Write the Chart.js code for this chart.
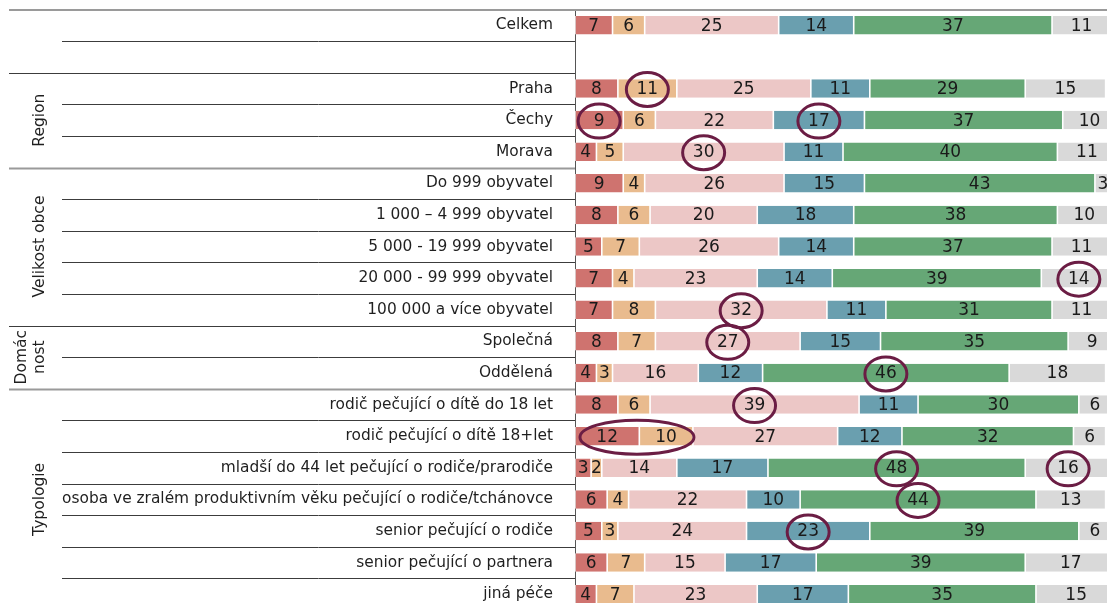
<!DOCTYPE html>
<html>
<head>
<meta charset="utf-8">
<script src="https://cdn.jsdelivr.net/npm/chart.js@4.4.0/dist/chart.umd.min.js"></script>
<style>
  html, body { margin: 0; padding: 0; background: #fff; overflow: hidden; width: 1107px; height: 603px; }
  canvas { display: block; }
</style>
</head>
<body>
<canvas id="chart" width="1116" height="612"></canvas>
<script>
// Categories (rows, top to bottom)
const categories = [
  'Celkem', '',
  'Praha', 'Čechy', 'Morava',
  'Do 999 obyvatel', '1 000 – 4 999 obyvatel', '5 000 - 19 999 obyvatel', '20 000 - 99 999 obyvatel', '100 000 a více obyvatel',
  'Společná', 'Oddělená',
  'rodič pečující o dítě do 18 let', 'rodič pečující o dítě 18+let',
  'mladší do 44 let pečující o rodiče/prarodiče',
  'osoba ve zralém produktivním věku pečující o rodiče/tchánovce',
  'senior pečující o rodiče', 'senior pečující o partnera', 'jiná péče'
];

// Series values (%)
const seriesRed    = [7, null, 8, 9, 4, 9, 8, 5, 7, 7, 8, 4, 8, 12, 3, 6, 5, 6, 4];
const seriesOrange = [6, null, 11, 6, 5, 4, 6, 7, 4, 8, 7, 3, 6, 10, 2, 4, 3, 7, 7];
const seriesPink   = [25, null, 25, 22, 30, 26, 20, 26, 23, 32, 27, 16, 39, 27, 14, 22, 24, 15, 23];
const seriesBlue   = [14, null, 11, 17, 11, 15, 18, 14, 14, 11, 15, 12, 11, 12, 17, 10, 23, 17, 17];
const seriesGreen  = [37, null, 29, 37, 40, 43, 38, 37, 39, 31, 35, 46, 30, 32, 48, 44, 39, 39, 35];
const seriesGrey   = [11, null, 15, 10, 11, 3, 10, 11, 14, 11, 9, 18, 6, 6, 16, 13, 6, 17, 15];

// Group labels on the left: [text lines, first row, last row]
const groups = [
  [['Region'], 2, 4],
  [['Velikost obce'], 5, 9],
  [['Domác', 'nost'], 10, 11],
  [['Typologie'], 12, 18]
];
// Rows after which a group boundary line is drawn
const groupBreaks = [1, 4, 9, 11];

// Highlighted values: [row, first series, last series]
const highlights = [
  [2, 1, 1], [3, 0, 0], [3, 3, 3], [4, 2, 2], [8, 5, 5], [9, 2, 2],
  [10, 2, 2], [11, 4, 4], [12, 2, 2], [13, 0, 1], [14, 4, 4], [14, 5, 5],
  [15, 4, 4], [16, 3, 3]
];

const colors = ['#CF736F', '#E9BB8E', '#ECC7C6', '#6A9FAF', '#66A776', '#D9D9D9'];
const allSeries = [seriesRed, seriesOrange, seriesPink, seriesBlue, seriesGreen, seriesGrey];

const FONT = '"DejaVu Sans", Verdana, sans-serif';

const overlay = {
  id: 'overlay',
  afterDatasetsDraw(chart) {
    const ctx = chart.ctx;
    ctx.save();
    // value labels
    ctx.font = '17px ' + FONT;
    ctx.fillStyle = '#1a1a1a';
    ctx.textAlign = 'center';
    ctx.textBaseline = 'middle';
    chart.data.datasets.forEach((ds, di) => {
      chart.getDatasetMeta(di).data.forEach((bar, i) => {
        const v = ds.data[i];
        if (v == null) return;
        ctx.fillText(String(v), (bar.x + bar.base) / 2, bar.y + 1);
      });
    });
    // highlight ellipses
    ctx.strokeStyle = '#6B1D44';
    ctx.lineWidth = 3;
    highlights.forEach(([row, a, b]) => {
      const first = chart.getDatasetMeta(a).data[row];
      const last = chart.getDatasetMeta(b).data[row];
      let cx, rx;
      if (a === b) {
        cx = (first.x + first.base) / 2;
        rx = 21;
      } else {
        const left = Math.min(first.base, first.x);
        const right = Math.max(last.base, last.x);
        cx = (left + right) / 2 + 3;
        rx = (right - left) / 2 - 2;
      }
      ctx.beginPath();
      ctx.ellipse(cx, first.y + 1, rx, 17, 0, 0, Math.PI * 2);
      ctx.stroke();
    });
    ctx.restore();
  },
  afterDraw(chart) {
    const ctx = chart.ctx;
    const area = chart.chartArea;
    const rowH = (area.bottom - area.top) / categories.length;
    ctx.save();
    // top border line
    ctx.strokeStyle = '#9a9a9a';
    ctx.lineWidth = 2;
    ctx.beginPath();
    ctx.moveTo(9, 10);
    ctx.lineTo(chart.width, 10);
    ctx.stroke();
    // row separators in the label area
    for (let k = 0; k < categories.length - 1; k++) {
      const yy = Math.round(area.top + (k + 1) * rowH) + 0.5;
      const isGroup = groupBreaks.includes(k);
      const thick = k === 4 || k === 11;
      ctx.strokeStyle = thick ? '#9a9a9a' : '#3c3c3c';
      ctx.lineWidth = thick ? 2 : 1;
      ctx.beginPath();
      ctx.moveTo(isGroup ? 9 : 62, yy);
      ctx.lineTo(area.left, yy);
      ctx.stroke();
    }
    // rotated group labels
    ctx.font = '15.5px ' + FONT;
    ctx.fillStyle = '#1f1f1f';
    ctx.textAlign = 'center';
    ctx.textBaseline = 'middle';
    groups.forEach(([lines, from, to]) => {
      const cy = area.top + ((from + to + 1) / 2) * rowH;
      const xs = lines.length === 1 ? [40] : [22, 40];
      lines.forEach((t, j) => {
        ctx.save();
        ctx.translate(xs[j], cy);
        ctx.rotate(-Math.PI / 2);
        ctx.fillText(t, 0, 0);
        ctx.restore();
      });
    });
    ctx.restore();
  }
};

new Chart(document.getElementById('chart').getContext('2d'), {
  type: 'bar',
  data: {
    labels: categories,
    datasets: allSeries.map((d, i) => ({
      data: d,
      backgroundColor: colors[i],
      borderColor: '#ffffff',
      borderWidth: { left: 0.8, right: 0.8, top: 0, bottom: 0 },
      borderSkipped: false,
      barPercentage: 0.585,
      categoryPercentage: 1
    }))
  },
  options: {
    indexAxis: 'y',
    responsive: false,
    animation: false,
    devicePixelRatio: 1,
    layout: { padding: { top: 9.5, bottom: 2, left: 0, right: 5 } },
    plugins: {
      legend: { display: false },
      tooltip: { enabled: false }
    },
    scales: {
      x: {
        stacked: true,
        min: 0,
        max: 100,
        display: false
      },
      y: {
        stacked: true,
        grid: { display: false, drawTicks: false },
        border: { display: true, color: '#555555', width: 1 },
        ticks: {
          padding: 22,
          color: '#1f1f1f',
          font: { family: FONT, size: 15.4 }
        },
        afterFit(scale) {
          scale.width = 575;
          scale.paddingTop = 0;
          scale.paddingBottom = 0;
        }
      }
    }
  },
  plugins: [overlay]
});
</script>
</body>
</html>
